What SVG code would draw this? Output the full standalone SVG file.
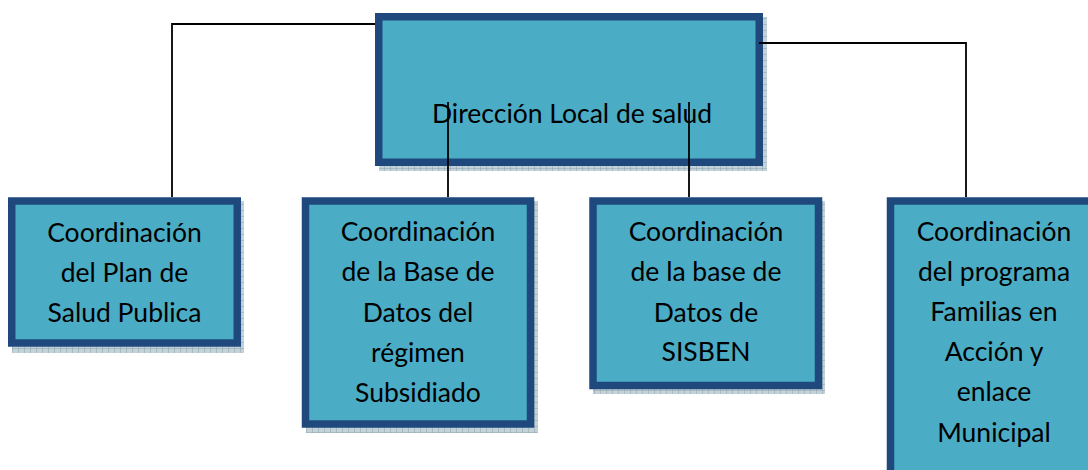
<svg xmlns="http://www.w3.org/2000/svg" width="1088" height="470" viewBox="0 0 1088 470">
<defs>
<pattern id="hatch" width="6" height="6" patternUnits="userSpaceOnUse">
<rect width="6" height="6" fill="#c3d2d8"/>
<path d="M0 0H6M0 0V6" stroke="#8ea3ad" stroke-width="1"/>
</pattern>
</defs>
<style>
.shadow{fill:url(#hatch)}
.box{fill:#4BACC6;stroke:#1F497D;stroke-width:7.5}
.lbl{font-family:Lato,"Liberation Sans",sans-serif;font-size:26.5px;fill:#000;text-anchor:middle}
.conn{fill:none;stroke:#000;stroke-width:1.8}
</style>
<rect width="1088" height="470" fill="#fff"/>
<g id="main">
<rect class="shadow" x="379" y="17" width="388" height="154"/>
<rect class="box" x="378.75" y="16.75" width="380.5" height="145.5"/>
<text class="lbl" x="572" y="122.5">Dirección Local de salud</text>
</g>
<g id="n1">
<rect class="shadow" x="12" y="201" width="232" height="152"/>
<rect class="box" x="11.75" y="201" width="225.5" height="142"/>
<text class="lbl" x="124.5" y="241.5">Coordinación</text>
<text class="lbl" x="124.5" y="281.5">del Plan de</text>
<text class="lbl" x="124.5" y="321.5">Salud Publica</text>
</g>
<g id="n2">
<rect class="shadow" x="306" y="201" width="232" height="232"/>
<rect class="box" x="305.5" y="201" width="225" height="223"/>
<text class="lbl" x="418" y="241">Coordinación</text>
<text class="lbl" x="418" y="281">de la Base de</text>
<text class="lbl" x="418" y="321.5">Datos del</text>
<text class="lbl" x="418" y="361.5">régimen</text>
<text class="lbl" x="418" y="401.5">Subsidiado</text>
</g>
<g id="n3">
<rect class="shadow" x="593" y="201" width="232" height="193"/>
<rect class="box" x="593" y="201" width="225.5" height="184.5"/>
<text class="lbl" x="706" y="241">Coordinación</text>
<text class="lbl" x="706" y="281">de la base de</text>
<text class="lbl" x="706" y="321.5">Datos de</text>
<text class="lbl" x="706" y="361">SISBEN</text>
</g>
<g id="n4">
<rect class="box" x="890.5" y="201" width="210" height="275"/>
<text class="lbl" x="994" y="241">Coordinación</text>
<text class="lbl" x="994" y="281">del programa</text>
<text class="lbl" x="994" y="321">Familias en</text>
<text class="lbl" x="994" y="361">Acción y</text>
<text class="lbl" x="994" y="401">enlace</text>
<text class="lbl" x="994" y="441.5">Municipal</text>
</g>
<g id="connectors">
<path class="conn" d="M375 24H172V197"/>
<path class="conn" d="M759 43H966V197"/>
<path class="conn" d="M448 102V197M689 102V197"/>
</g>
</svg>
